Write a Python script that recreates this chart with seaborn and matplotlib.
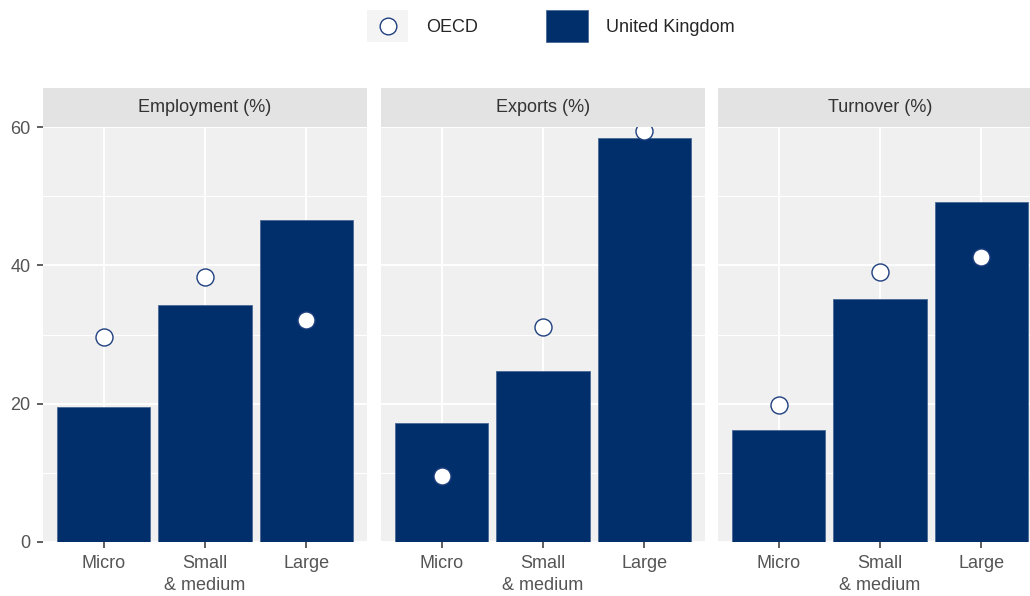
import matplotlib
matplotlib.use("Agg")
import matplotlib.pyplot as plt
import matplotlib.ticker as ticker
from matplotlib.lines import Line2D
from matplotlib.patches import Patch
from matplotlib.legend_handler import HandlerLine2D, HandlerTuple
import seaborn as sns
import pandas as pd

# ---------------------------------------------------------------------------
# Data
# ---------------------------------------------------------------------------
panels = ["Employment (%)", "Exports (%)", "Turnover (%)"]
sizes = ["Micro", "Small\n& medium", "Large"]

uk_employment = [19.5, 34.3, 46.6]
uk_exports = [17.2, 24.7, 58.4]
uk_turnover = [16.2, 35.1, 49.2]

oecd_employment = [29.6, 38.3, 32.1]
oecd_exports = [9.5, 31.1, 59.4]
oecd_turnover = [19.8, 39.0, 41.2]

uk_values = [uk_employment, uk_exports, uk_turnover]
oecd_values = [oecd_employment, oecd_exports, oecd_turnover]

NAVY = "#002F6C"
PANEL_BG = "#F0F0F0"
STRIP_BG = "#E3E3E3"
TICK_COL = "#555555"
FS = 13


class CenteredMarker(HandlerLine2D):
    """Marcador centrado verticalmente na caixa da legenda."""

    def create_artists(self, legend, orig_handle, xdescent, ydescent,
                       width, height, fontsize, trans):
        arts = super().create_artists(legend, orig_handle, xdescent, ydescent,
                                      width, height, fontsize, trans)
        for a in arts:
            a.set_ydata([height / 2 - ydescent] * len(a.get_ydata()))
        return arts


sns.set_theme(style="white")
plt.rcParams["font.family"] = ["Liberation Sans Narrow", "Liberation Sans", "DejaVu Sans"]

fig = plt.figure(figsize=(10.3, 5.96), dpi=100)

W, H = 1030.0, 596.0
panel_left = [43, 381, 718]
panel_w = 324
panel_top, panel_bot = 127, 542
strip_h = 39

for i, title in enumerate(panels):
    ax = fig.add_axes([panel_left[i] / W, (H - panel_bot) / H,
                       panel_w / W, (panel_bot - panel_top) / H])
    df = pd.DataFrame({"size": sizes, "uk": uk_values[i], "oecd": oecd_values[i]})

    ax.set_facecolor(PANEL_BG)
    ax.set_axisbelow(True)
    sns.barplot(data=df, x="size", y="uk", order=sizes, color=NAVY,
                saturation=1, width=0.92, edgecolor="#4A6896", linewidth=0.6,
                ax=ax, zorder=2)
    sns.scatterplot(data=df, x="size", y="oecd", s=150, color="white",
                    edgecolor="#1F3F7F", linewidth=1.0, ax=ax, zorder=3,
                    clip_on=False, legend=False)

    ax.set_xlim(-0.6, 2.6)
    ax.set_ylim(0, 60)
    ax.yaxis.set_major_locator(ticker.MultipleLocator(20))
    ax.yaxis.set_minor_locator(ticker.MultipleLocator(10))
    ax.grid(which="major", color="white", linewidth=1.4, zorder=0)
    ax.grid(which="minor", axis="y", color="white", linewidth=0.8, zorder=0)
    for s in ax.spines.values():
        s.set_visible(False)
    ax.set_xlabel("")
    ax.set_ylabel("")
    ax.tick_params(axis="both", which="major", bottom=True, left=True,
                   length=4, width=1.1, color="#333333",
                   labelcolor=TICK_COL, labelsize=FS, pad=5)
    ax.tick_params(axis="y", which="minor", length=0)
    for lab in ax.get_xticklabels():
        lab.set_linespacing(1.45)
        lab.set_verticalalignment("top")
    if i > 0:
        ax.tick_params(axis="y", which="major", left=False, labelleft=False)

    # faixa do facet
    sax = fig.add_axes([panel_left[i] / W, (H - panel_top) / H,
                        panel_w / W, strip_h / H])
    sax.set_facecolor(STRIP_BG)
    sax.set_xticks([])
    sax.set_yticks([])
    for s in sax.spines.values():
        s.set_visible(False)
    sax.text(0.5, 0.5, title, ha="center", va="center", fontsize=FS,
             color="#333333", transform=sax.transAxes)

# legenda
oecd_key = (
    Patch(facecolor="#F4F4F4", edgecolor="none"),
    Line2D([], [], marker="o", linestyle="none", markersize=12,
           markerfacecolor="white", markeredgecolor="#1F3F7F", markeredgewidth=1.0),
)
uk_key = Patch(facecolor=NAVY, edgecolor="#4A6896", linewidth=0.6)
fig.legend([oecd_key, uk_key], ["OECD", "United Kingdom"], loc="center",
           bbox_to_anchor=(0.5345, (H - 26) / H), ncol=2, frameon=False,
           fontsize=FS, handlelength=2.3, handleheight=2.3,
           columnspacing=3.75, handletextpad=1.0,
           handler_map={tuple: HandlerTuple(ndivide=1, pad=0),
                        Line2D: CenteredMarker()})

fig.savefig("out.png", dpi=100)
